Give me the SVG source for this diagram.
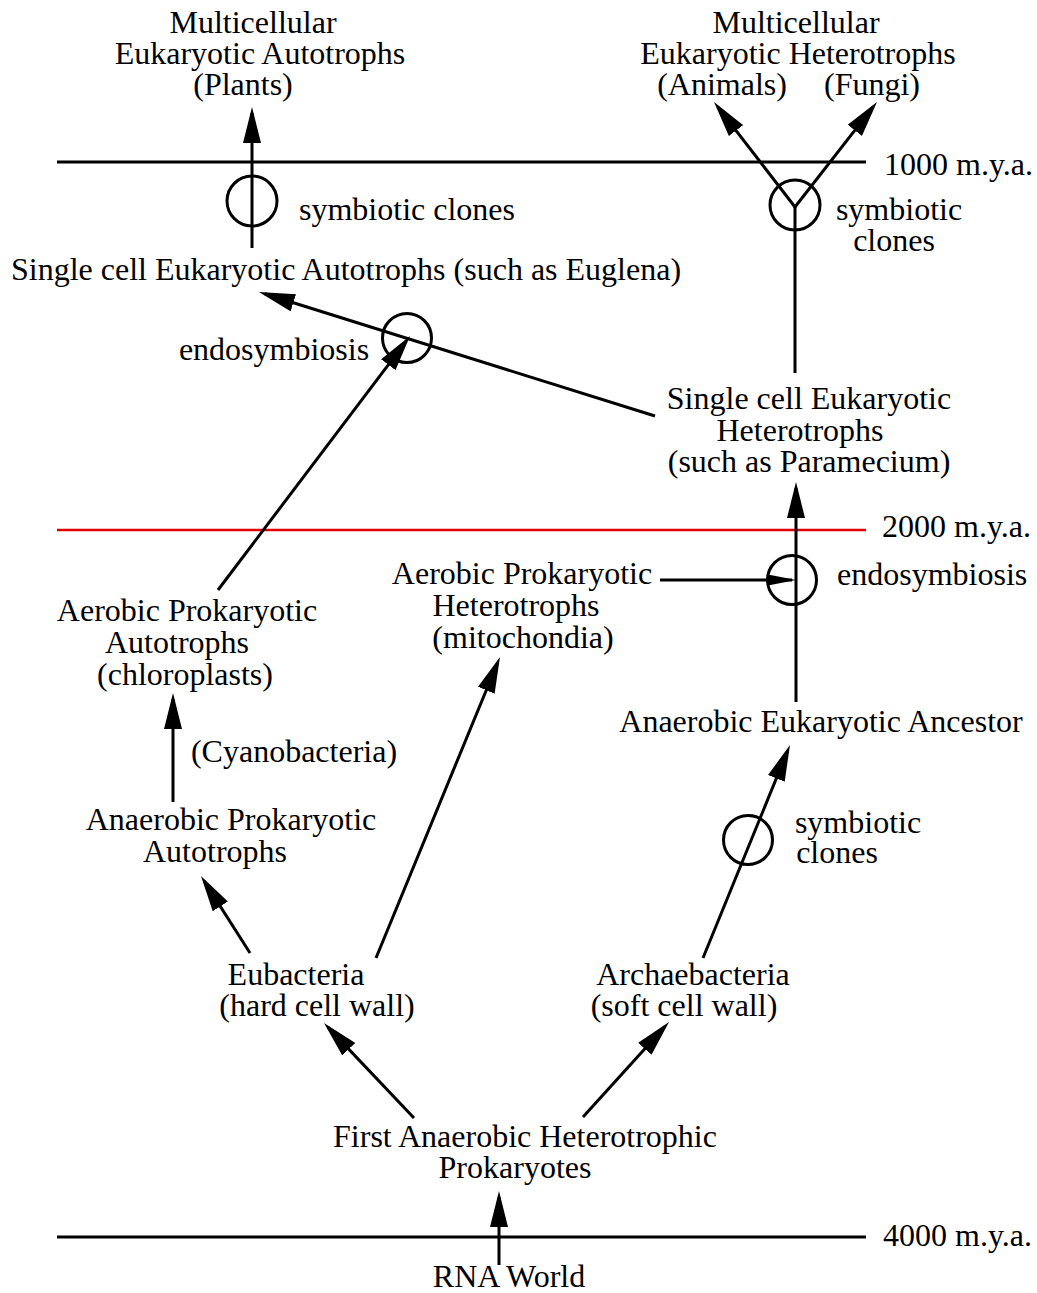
<svg xmlns="http://www.w3.org/2000/svg" width="1037" height="1293" viewBox="0 0 1037 1293">
<style>
text{font-family:"Liberation Serif","Times New Roman",serif;font-size:32px;fill:#000}
.m{text-anchor:middle}
.ln{stroke:#000;stroke-width:3;fill:none}
.cl{stroke:#000;stroke-width:3;fill:none}
.arr{stroke:#000;stroke-width:3;fill:none;marker-end:url(#ah)}
.arrs{stroke:#000;stroke-width:3;fill:none;marker-end:url(#ahs)}
</style>
<defs>
<marker id="ah" viewBox="0 0 36 18" refX="30" refY="9" markerWidth="36" markerHeight="18" markerUnits="userSpaceOnUse" orient="auto">
<path d="M0,0 L36,9 L0,18 Z" fill="#000"/>
</marker>
<marker id="ahs" viewBox="0 0 28 11" refX="24" refY="5.5" markerWidth="28" markerHeight="11" markerUnits="userSpaceOnUse" orient="auto">
<path d="M0,0 L28,5.5 L0,11 Z" fill="#000"/>
</marker>
</defs>
<rect width="1037" height="1293" fill="#fff"/>

<g id="timeline">
<line x1="57" y1="162" x2="866" y2="162" stroke="#000" stroke-width="3"/>
<text x="884" y="175">1000 m.y.a.</text>
<line x1="57" y1="530" x2="866" y2="530" stroke="#e00000" stroke-width="2.5"/>
<text x="882" y="537">2000 m.y.a.</text>
<line x1="57" y1="1237" x2="866" y2="1237" stroke="#000" stroke-width="3"/>
<text x="883" y="1246">4000 m.y.a.</text>
</g>

<g id="connectors">
<line class="arr" x1="252" y1="248" x2="252" y2="113"/>
<line class="arr" x1="795" y1="207" x2="717.7" y2="106.8"/>
<line class="arr" x1="795" y1="207" x2="873.3" y2="106.7"/>
<line class="ln" x1="795" y1="207" x2="795" y2="373"/>
<line class="arr" x1="655" y1="416" x2="264.7" y2="293.8"/>
<line class="arr" x1="218" y1="590" x2="406.4" y2="340.8"/>
<line class="arr" x1="796" y1="702" x2="796" y2="488"/>
<line class="arrs" x1="660" y1="580" x2="792" y2="580"/>
<line class="arr" x1="703" y1="958" x2="787.7" y2="750.6"/>
<line class="arr" x1="376" y1="958" x2="497.7" y2="662.5"/>
<line class="arr" x1="250" y1="953" x2="204.2" y2="881.1"/>
<line class="arr" x1="173" y1="802" x2="173" y2="699"/>
<line class="arr" x1="414" y1="1118" x2="328.1" y2="1027.4"/>
<line class="arr" x1="583" y1="1117" x2="665" y2="1026.5"/>
<line class="arr" x1="499" y1="1265" x2="499" y2="1197"/>
</g>

<g id="markers">
<circle class="cl" cx="252" cy="201" r="25"/>
<circle class="cl" cx="795" cy="205" r="25"/>
<circle class="cl" cx="407" cy="338" r="24.5"/>
<circle class="cl" cx="792" cy="580" r="24.5"/>
<circle class="cl" cx="748" cy="840" r="24.5"/>
</g>

<g id="plants">
<text class="m" x="253" y="33">Multicellular</text>
<text class="m" x="260" y="64">Eukaryotic Autotrophs</text>
<text class="m" x="243" y="95">(Plants)</text>
</g>
<g id="animals-fungi">
<text class="m" x="796" y="33">Multicellular</text>
<text class="m" x="798" y="64">Eukaryotic Heterotrophs</text>
<text class="m" x="722" y="95">(Animals)</text>
<text class="m" x="872" y="95">(Fungi)</text>
</g>
<g id="lbl-symbiotic-1">
<text x="299" y="220">symbiotic clones</text>
</g>
<g id="lbl-symbiotic-2">
<text class="m" x="899" y="220">symbiotic</text>
<text class="m" x="894" y="251">clones</text>
</g>
<g id="euglena">
<text class="m" x="346" y="280">Single cell Eukaryotic Autotrophs (such as Euglena)</text>
</g>
<g id="lbl-endo-1">
<text class="m" x="274" y="360">endosymbiosis</text>
</g>
<g id="paramecium">
<text class="m" x="809" y="409">Single cell Eukaryotic</text>
<text class="m" x="800" y="441">Heterotrophs</text>
<text class="m" x="809" y="472">(such as Paramecium)</text>
</g>
<g id="mitochondria">
<text class="m" x="522" y="584">Aerobic Prokaryotic</text>
<text class="m" x="516" y="616">Heterotrophs</text>
<text class="m" x="523" y="648">(mitochondia)</text>
</g>
<g id="lbl-endo-2">
<text x="837" y="585">endosymbiosis</text>
</g>
<g id="chloroplasts">
<text class="m" x="187" y="621">Aerobic Prokaryotic</text>
<text class="m" x="177" y="653">Autotrophs</text>
<text class="m" x="185" y="685">(chloroplasts)</text>
</g>
<g id="lbl-cyano">
<text class="m" x="294" y="762">(Cyanobacteria)</text>
</g>
<g id="anaerobic-prok-auto">
<text class="m" x="231" y="830">Anaerobic Prokaryotic</text>
<text class="m" x="215" y="862">Autotrophs</text>
</g>
<g id="anaerobic-euk-ancestor">
<text class="m" x="821" y="732">Anaerobic Eukaryotic Ancestor</text>
</g>
<g id="lbl-symbiotic-3">
<text class="m" x="858" y="833">symbiotic</text>
<text class="m" x="837" y="863">clones</text>
</g>
<g id="eubacteria">
<text class="m" x="296" y="985">Eubacteria</text>
<text class="m" x="317" y="1016">(hard cell wall)</text>
</g>
<g id="archaebacteria">
<text class="m" x="693" y="985">Archaebacteria</text>
<text class="m" x="684" y="1016">(soft cell wall)</text>
</g>
<g id="first-prok">
<text class="m" x="525" y="1147">First Anaerobic Heterotrophic</text>
<text class="m" x="515" y="1178">Prokaryotes</text>
</g>
<g id="rna-world">
<text class="m" x="509" y="1287">RNA World</text>
</g>
</svg>
